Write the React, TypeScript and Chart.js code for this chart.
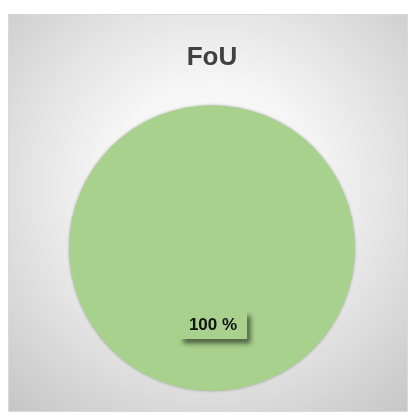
import React, { useEffect, useRef } from "react";
import { Chart, registerables } from "chart.js";

Chart.register(...registerables);

const categories = ["FoU"];
const values = [100];
const valueLabels = ["100 %"];
const titleText = "FoU";

const bgPlugin = {
  id: "bgFrame",
  beforeDraw(chart: any) {
    const ctx = chart.ctx;
    ctx.save();
    ctx.fillStyle = "#ffffff";
    ctx.fillRect(0, 0, chart.width, chart.height);
    const x0 = 8, y0 = 14, x1 = 408, y1 = 412;
    const g = ctx.createRadialGradient(210, 185, 0, 210, 185, 300);
    g.addColorStop(0, "#ffffff");
    g.addColorStop(0.35, "#f5f5f5");
    g.addColorStop(0.6, "#e4e4e4");
    g.addColorStop(1, "#c6c6c6");
    ctx.fillStyle = g;
    ctx.fillRect(x0, y0, x1 - x0, y1 - y0);
    ctx.strokeStyle = "#d9d9d9";
    ctx.lineWidth = 1;
    ctx.strokeRect(x0 + 0.5, y0 + 0.5, x1 - x0 - 1, y1 - y0 - 1);
    ctx.restore();
  },
  beforeDatasetsDraw(chart: any) {
    const ctx = chart.ctx;
    ctx.save();
    ctx.shadowColor = "rgba(0,0,0,0.3)";
    ctx.shadowBlur = 3;
    ctx.shadowOffsetX = 0;
    ctx.shadowOffsetY = 0;
  },
  afterDatasetsDraw(chart: any) {
    const ctx = chart.ctx;
    ctx.restore();
    const meta = chart.getDatasetMeta(0);
    meta.data.forEach((arc: any, i: number) => {
      const p = arc.tooltipPosition();
      const text = valueLabels[i];
      ctx.save();
      ctx.font = "bold 17px 'Liberation Sans', Arial, sans-serif";
      const tw = ctx.measureText(text).width;
      const w = tw + 20;
      const h = 29;
      const cx = p.x + 1;
      const cy = p.y + 5;
      ctx.shadowColor = "rgba(0,0,0,0.55)";
      ctx.shadowBlur = 5;
      ctx.shadowOffsetX = 4;
      ctx.shadowOffsetY = 5;
      ctx.fillStyle = "#A9D18E";
      ctx.fillRect(cx - w / 2, cy - h / 2, w, h);
      ctx.shadowColor = "transparent";
      ctx.shadowBlur = 0;
      ctx.shadowOffsetX = 0;
      ctx.shadowOffsetY = 0;
      ctx.fillStyle = "#111111";
      ctx.textAlign = "center";
      ctx.textBaseline = "middle";
      ctx.fillText(text, cx, cy + 1);
      ctx.restore();
    });
  },
};

export default function App() {
  const ref = useRef<HTMLCanvasElement>(null);
  useEffect(() => {
    if (!ref.current) return;
    const chart = new Chart(ref.current, {
      type: "pie",
      data: {
        labels: categories,
        datasets: [
          {
            data: values,
            backgroundColor: ["#A9D18E"],
            borderWidth: 0,
          },
        ],
      },
      options: {
        responsive: false,
        animation: false,
        layout: { padding: { left: 69, right: 59, top: 0, bottom: 24 } },
        plugins: {
          legend: { display: false },
          tooltip: { enabled: false },
          title: {
            display: true,
            text: titleText,
            color: "#404040",
            font: { family: "'Liberation Sans', Arial, sans-serif", size: 26, weight: "bold", lineHeight: 1.2 },
            padding: { top: 42, bottom: 32 },
          },
        },
      },
      plugins: [bgPlugin],
    });
    return () => chart.destroy();
  }, []);
  return (
    <div style={{ position: "fixed", left: 0, top: 0, width: 414, height: 415 }}>
      <canvas ref={ref} width={414} height={415} style={{ display: "block" }} />
    </div>
  );
}
